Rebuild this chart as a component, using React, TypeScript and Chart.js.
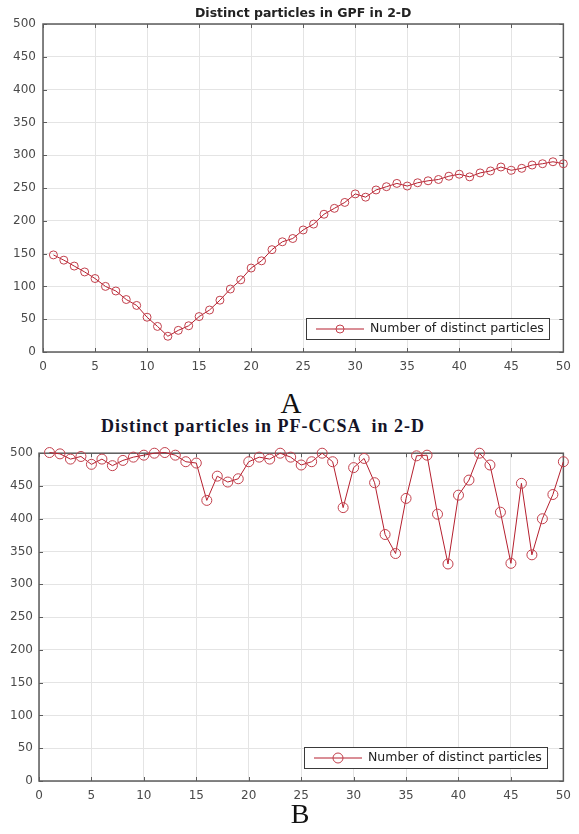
import React, { useEffect, useRef } from 'react';
import { Chart, registerables } from 'chart.js';

Chart.register(...registerables);

const iterations = [1, 2, 3, 4, 5, 6, 7, 8, 9, 10, 11, 12, 13, 14, 15, 16, 17, 18, 19, 20, 21, 22, 23, 24, 25, 26, 27, 28, 29, 30, 31, 32, 33, 34, 35, 36, 37, 38, 39, 40, 41, 42, 43, 44, 45, 46, 47, 48, 49, 50];

const gpfDistinct = [148, 140, 131, 122, 112, 100, 93, 80, 71, 53, 39, 24, 33, 40, 54, 64, 79, 96, 110, 128, 139, 156, 168, 173, 186, 195, 210, 219, 228, 241, 236, 247, 252, 257, 253, 258, 261, 263, 268, 271, 267, 273, 276, 282, 277, 280, 285, 287, 290, 287];

const pfccsaDistinct = [501, 499, 491, 495, 483, 491, 481, 489, 494, 497, 500, 501, 497, 487, 485, 428, 465, 456, 461, 487, 494, 491, 500, 494, 482, 487, 500, 487, 417, 478, 492, 455, 376, 347, 431, 496, 497, 407, 331, 436, 459, 500, 482, 410, 332, 454, 345, 400, 437, 487];

const xTickValues = [0, 5, 10, 15, 20, 25, 30, 35, 40, 45, 50];
const yTickValues = [0, 50, 100, 150, 200, 250, 300, 350, 400, 450, 500];

const seriesLabel = 'Number of distinct particles';
const titleA = 'Distinct particles in GPF in 2-D';
const titleB = 'Distinct particles in PF-CCSA  in 2-D';
const captionA = 'A';
const captionB = 'B';

const LINE_COLOR = '#b51f2e';
const MARKER_COLOR = '#c2404c';
const GRID_COLOR = '#e4e4e4';
const AXIS_COLOR = '#5c5c5c';
const TICK_TEXT = '#4a4a4a';

function framePlugin() {
  return {
    id: 'matlabFrame',
    beforeDatasetsDraw(chart: any) {
      const { ctx, chartArea: a, scales } = chart;
      ctx.save();
      ctx.strokeStyle = AXIS_COLOR;
      ctx.lineWidth = 1.5;
      ctx.strokeRect(a.left, a.top, a.right - a.left, a.bottom - a.top);
      ctx.lineWidth = 1;
      ctx.beginPath();
      scales.x.ticks.forEach((t: any) => {
        const px = Math.round(scales.x.getPixelForValue(t.value)) + 0.5;
        ctx.moveTo(px, a.bottom);
        ctx.lineTo(px, a.bottom - 4);
        ctx.moveTo(px, a.top);
        ctx.lineTo(px, a.top + 4);
      });
      scales.y.ticks.forEach((t: any) => {
        const py = Math.round(scales.y.getPixelForValue(t.value)) + 0.5;
        ctx.moveTo(a.left, py);
        ctx.lineTo(a.left + 4, py);
        ctx.moveTo(a.right, py);
        ctx.lineTo(a.right - 4, py);
      });
      ctx.stroke();
      ctx.restore();
    },
  };
}

function insideLegendPlugin(rightGap: number, bottomGap: number, radius: number) {
  return {
    id: 'insideLegend',
    afterDraw(chart: any) {
      const { ctx, chartArea: a } = chart;
      const ds = chart.data.datasets[0];
      ctx.save();
      ctx.font = '12.5px "DejaVu Sans"';
      const tw = ctx.measureText(ds.label).width;
      const h = 21;
      const w = Math.round(10 + 48 + 6 + tw + 5);
      const x = Math.round(a.right - rightGap - w);
      const y = Math.round(a.bottom - bottomGap - h);
      ctx.fillStyle = '#ffffff';
      ctx.fillRect(x, y, w, h);
      ctx.strokeStyle = '#3a3a3a';
      ctx.lineWidth = 1;
      ctx.strokeRect(x + 0.5, y + 0.5, w, h);
      const cy = y + h / 2 + 0.5;
      ctx.strokeStyle = ds.borderColor;
      ctx.beginPath();
      ctx.moveTo(x + 10, cy);
      ctx.lineTo(x + 58, cy);
      ctx.stroke();
      ctx.strokeStyle = ds.pointBorderColor;
      ctx.beginPath();
      ctx.arc(x + 34, cy, radius, 0, Math.PI * 2);
      ctx.stroke();
      ctx.fillStyle = '#222222';
      ctx.textAlign = 'left';
      ctx.textBaseline = 'middle';
      ctx.fillText(ds.label, x + 64, cy);
      ctx.restore();
    },
  };
}

type Props = {
  values: number[];
  top: number;
  height: number;
  padding: { left: number; right: number; top: number; bottom: number };
  xAxisHeight: number;
  yAxisWidth: number;
  title?: string;
  pointRadius: number;
  xPad: number;
  yPad: number;
  legendRight: number;
  legendBottom: number;
};

function DistinctChart(p: Props) {
  const ref = useRef<HTMLCanvasElement>(null);
  useEffect(() => {
    const tickFont = { family: '"DejaVu Sans", sans-serif', size: 12 };
    const chart = new Chart(ref.current as HTMLCanvasElement, {
      type: 'line',
      data: {
        datasets: [
          {
            label: seriesLabel,
            data: iterations.map((x, i) => ({ x, y: p.values[i] })),
            borderColor: LINE_COLOR,
            borderWidth: 1,
            pointStyle: 'circle',
            pointRadius: p.pointRadius,
            pointBorderColor: MARKER_COLOR,
            pointBackgroundColor: 'rgba(0,0,0,0)',
            pointBorderWidth: 1,
            tension: 0,
            fill: false,
            clip: false,
          } as any,
        ],
      },
      options: {
        animation: false,
        responsive: false,
        maintainAspectRatio: false,
        layout: { padding: p.padding },
        plugins: {
          legend: { display: false },
          tooltip: { enabled: false },
          title: p.title
            ? {
                display: true,
                fullSize: false,
                text: p.title,
                color: '#222222',
                font: { family: '"DejaVu Sans", sans-serif', size: 12.5, weight: 'bold' },
                padding: { top: 6, bottom: 3 },
              }
            : { display: false },
        },
        scales: {
          x: {
            type: 'linear',
            min: 0,
            max: 50,
            afterBuildTicks: (s: any) => {
              s.ticks = xTickValues.map((v) => ({ value: v }));
            },
            afterFit: (s: any) => {
              s.height = p.xAxisHeight;
            },
            ticks: { font: tickFont, color: TICK_TEXT, padding: p.xPad, maxRotation: 0, autoSkip: false },
            grid: { color: GRID_COLOR, lineWidth: 1, drawTicks: false },
            border: { display: false },
          },
          y: {
            type: 'linear',
            min: 0,
            max: 500,
            afterBuildTicks: (s: any) => {
              s.ticks = yTickValues.map((v) => ({ value: v }));
            },
            afterFit: (s: any) => {
              s.width = p.yAxisWidth;
            },
            ticks: { font: tickFont, color: TICK_TEXT, padding: p.yPad, autoSkip: false },
            grid: { color: GRID_COLOR, lineWidth: 1, drawTicks: false },
            border: { display: false },
          },
        },
      } as any,
      plugins: [framePlugin(), insideLegendPlugin(p.legendRight, p.legendBottom, p.pointRadius) as any],
    });
    return () => chart.destroy();
  }, []);
  return (
    <canvas
      ref={ref}
      width={579}
      height={p.height}
      style={{ position: 'absolute', left: 0, top: p.top, width: 579, height: p.height }}
    />
  );
}

export default function App() {
  return (
    <div style={{ position: 'absolute', left: 0, top: 0, width: 579, height: 834, background: '#ffffff', overflow: 'hidden' }}>
      <DistinctChart
        values={gpfDistinct}
        top={0}
        height={385}
        padding={{ left: 0, right: 12, top: 0, bottom: 0 }}
        xAxisHeight={33}
        yAxisWidth={43}
        title={titleA}
        pointRadius={4}
        xPad={8}
        yPad={7}
        legendRight={14}
        legendBottom={13}
      />
      <div
        style={{
          position: 'absolute',
          left: 241,
          width: 100,
          top: 387,
          textAlign: 'center',
          fontFamily: '"Liberation Serif", "Times New Roman", serif',
          fontSize: 29,
          lineHeight: '32px',
          color: '#111',
        }}
      >
        {captionA}
      </div>
      <div
        style={{
          position: 'absolute',
          left: 0,
          width: 526,
          top: 416,
          textAlign: 'center',
          fontFamily: '"Liberation Serif", "Times New Roman", serif',
          fontWeight: 'bold',
          fontSize: 18,
          letterSpacing: '1px',
          lineHeight: '21px',
          color: '#141428',
          whiteSpace: 'pre',
        }}
      >
        {titleB}
      </div>
      <DistinctChart
        values={pfccsaDistinct}
        top={440}
        height={370}
        padding={{ left: 0, right: 15, top: 13, bottom: 0 }}
        xAxisHeight={29}
        yAxisWidth={39}
        pointRadius={5}
        xPad={8}
        yPad={6}
        legendRight={16}
        legendBottom={13}
      />
      <div
        style={{
          position: 'absolute',
          left: 250,
          width: 100,
          top: 798,
          textAlign: 'center',
          fontFamily: '"Liberation Serif", "Times New Roman", serif',
          fontSize: 28,
          lineHeight: '31px',
          color: '#111',
        }}
      >
        {captionB}
      </div>
    </div>
  );
}
